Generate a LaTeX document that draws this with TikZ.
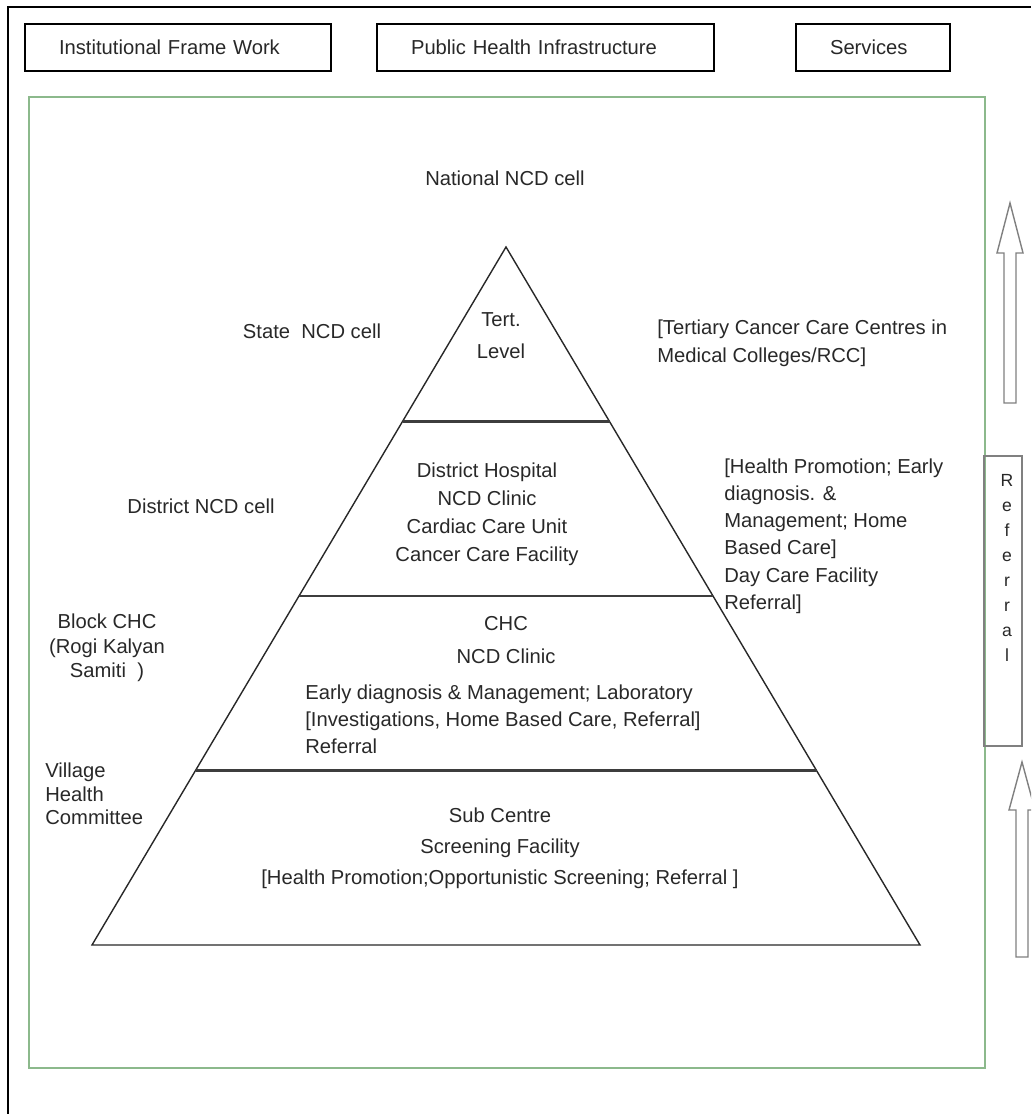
\documentclass[tikz,border=0pt]{standalone}
\usepackage{fontspec}
\setmainfont{Liberation Sans}
\usetikzlibrary{calc}
\definecolor{framegreen}{RGB}{140,185,140}
\definecolor{inkgray}{RGB}{40,40,40}
\tikzset{
  lbl/.style={text=inkgray, font=\fontsize{11.5}{#1}\selectfont, inner sep=0pt},
  lbl/.default=15.5,
  topbox/.style={draw, line width=1.1pt, lbl, inner xsep=0.68cm, minimum height=0.94cm, text width=#1, align=left},
  tier/.style={line width=1.5pt, draw=inkgray!90},
  hollow/.style={draw=gray, line width=0.8pt, fill=white}}

\begin{document}
\begin{tikzpicture}[x=0.02cm, y=-0.02cm]
\useasboundingbox (0,0) rectangle (1031,1114);
\clip (0,0) rectangle (1031,1114);

\draw[line width=1.1pt] (8,1114) -- (8,7) -- (1031,7);

\node[topbox=4.76cm] (framework) at (178,47.5) {Institutional Frame Work};
\node[topbox=5.38cm] (infra) at (545.5,47.5) {Public Health Infrastructure};
\node[topbox=1.72cm] (services) at (873,47.5) {Services};

\draw[framegreen, line width=0.9pt] (29,97) rectangle (985,1068);

% pyramid and its tiers
\coordinate (apex) at (506,247);
\coordinate (bl) at (92,945);
\coordinate (br) at (920,945);
\draw[line width=0.8pt, draw=inkgray] (bl) -- (apex) -- (br) -- cycle;
\foreach \t in {0.25,0.5,0.75}
  \draw[tier] ($(apex)!\t!(bl)$) -- ($(apex)!\t!(br)$);

\node[lbl] (natcell) at (505,178) {National NCD cell};
\node[lbl] (statecell) at (312,331) {State\ \ NCD cell};
\node[lbl=18.2, align=center] (tert) at (501,336) {Tert.\\Level};
\node[lbl=15.9, align=left, anchor=west] (tertsvc) at (657,343) {[Tertiary Cancer Care Centres in\\Medical Colleges/RCC]};

\node[lbl] (distcell) at (201,506) {District NCD cell};
\node[lbl=15.9, align=center] (disthosp) at (487,514) {District Hospital\\NCD Clinic\\Cardiac Care Unit\\Cancer Care Facility};
\node[lbl=15.5, align=left, anchor=west] (distsvc) at (724,536) {[Health Promotion; Early\\diagnosis. \&\\Management; Home\\Based Care]\\Day Care Facility\\Referral]};

\node[lbl=13.9, align=center] (blockchc) at (107,648) {Block CHC\\(Rogi Kalyan\\Samiti\ \ )};
\node[lbl=18.8, align=center] (chc) at (506,640) {CHC\\NCD Clinic};
\node[lbl=15.4, align=left, anchor=west] (chcsvc) at (305,719) {Early diagnosis \& Management; Laboratory\\{[}Investigations, Home Based Care, Referral]\\Referral};

\node[lbl=13.4, align=left, anchor=west] (vilcom) at (45,794) {Village\\Health\\Committee};
\node[lbl=17.6, align=center] (subcentre) at (500,848) {Sub Centre\\Screening Facility\\{[}Health Promotion;Opportunistic Screening; Referral\ ]};

% referral column
\foreach \cx/\tip/\neck/\foot in {1010/203/253/403, 1022/762/810/957}
  \draw[hollow] (\cx-6,\foot) -- (\cx-6,\neck) -- (\cx-13,\neck) -- (\cx,\tip) -- (\cx+13,\neck) -- (\cx+6,\neck) -- (\cx+6,\foot) -- cycle;
\node[draw=gray, line width=0.8pt, minimum width=0.76cm, minimum height=5.8cm, inner sep=0pt] (refbox) at (1003,601) {};
\node[lbl, font=\fontsize{10}{14.2}\selectfont, align=center] (reftxt) at (1007,568) {R\\e\\f\\e\\r\\r\\a\\l};
\end{tikzpicture}
\end{document}
